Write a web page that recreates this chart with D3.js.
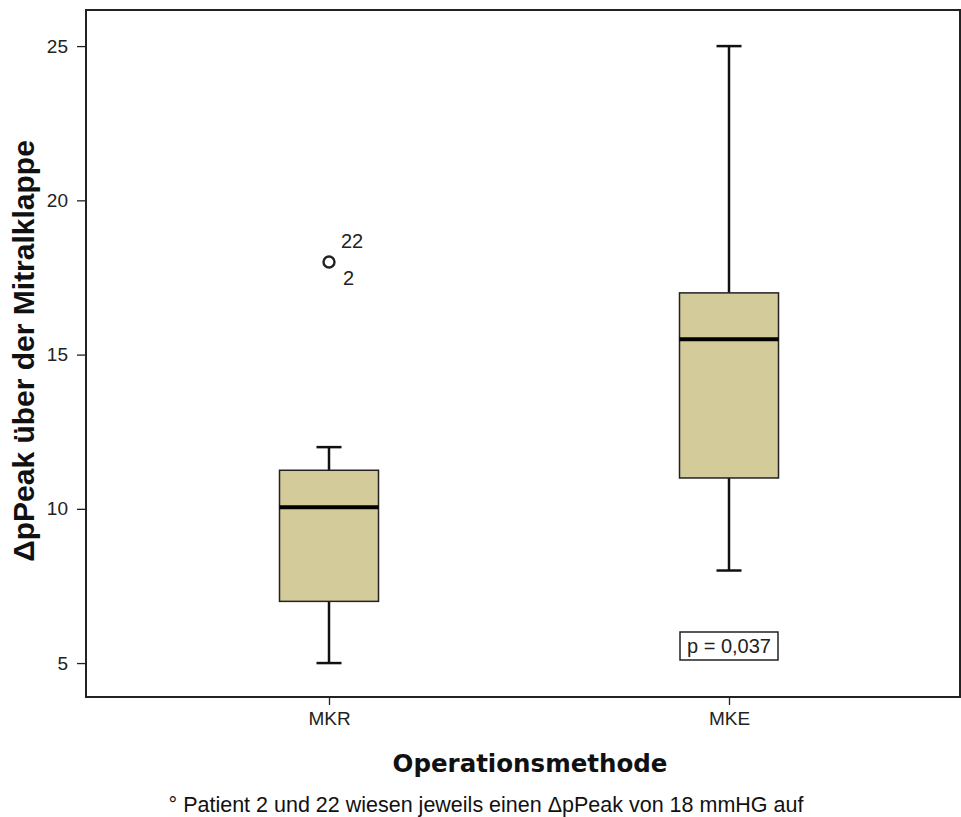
<!DOCTYPE html>
<html>
<head>
<meta charset="utf-8">
<script src="https://cdn.jsdelivr.net/npm/d3@7"></script>
<style>
  body { margin: 0; background: #fff; }
  svg { display: block; }
</style>
</head>
<body>
<svg id="chart" width="961" height="817"></svg>
<script>
// box plot data
const groups = ['MKR', 'MKE'];
const whiskerLow = [5, 8];
const q1 = [7, 11];
const median = [10.05, 15.5];
const q3 = [11.25, 17];
const whiskerHigh = [12, 25];
const outliers = [{ group: 'MKR', value: 18, labels: ['22', '2'] }];
const yTicks = [5, 10, 15, 20, 25];

const svg = d3.select('#chart');
const plot = { left: 86, top: 10, right: 960, bottom: 697 };
const sans = 'Liberation Sans, Arial, sans-serif';

const y = d3.scaleLinear().domain([3.9, 26.17]).range([plot.bottom, plot.top]);
const x = d3.scalePoint().domain(groups).range([329, 729]);

// frame
svg.append('rect')
  .attr('x', plot.left).attr('y', plot.top)
  .attr('width', plot.right - plot.left).attr('height', plot.bottom - plot.top)
  .attr('fill', 'none').attr('stroke', '#222').attr('stroke-width', 2);

// y axis
const yAxis = svg.append('g')
  .attr('transform', `translate(${plot.left},0)`)
  .call(d3.axisLeft(y).tickValues(yTicks).tickSize(9).tickPadding(9));
yAxis.select('.domain').remove();
yAxis.selectAll('line').attr('stroke', '#222').attr('stroke-width', 1.3);
yAxis.selectAll('text')
  .attr('font-family', sans)
  .attr('font-size', 19).attr('fill', '#222');

// x axis
const xAxis = svg.append('g')
  .attr('transform', `translate(0,${plot.bottom})`)
  .call(d3.axisBottom(x).tickSize(8).tickPadding(7));
xAxis.select('.domain').remove();
xAxis.selectAll('line').attr('stroke', '#222').attr('stroke-width', 1.3);
xAxis.selectAll('text')
  .attr('font-family', sans)
  .attr('font-size', 19).attr('fill', '#222');

// boxes
const boxW = 99, capW = 25;
const rows = groups.map((g, i) => ({
  g, lo: whiskerLow[i], q1: q1[i], med: median[i], q3: q3[i], hi: whiskerHigh[i]
}));

const box = svg.append('g').selectAll('g').data(rows).join('g');

box.append('line')
  .attr('x1', d => x(d.g)).attr('x2', d => x(d.g))
  .attr('y1', d => y(d.lo)).attr('y2', d => y(d.q1))
  .attr('stroke', '#111').attr('stroke-width', 2.5);
box.append('line')
  .attr('x1', d => x(d.g)).attr('x2', d => x(d.g))
  .attr('y1', d => y(d.q3)).attr('y2', d => y(d.hi))
  .attr('stroke', '#111').attr('stroke-width', 2.5);
box.selectAll('.cap')
  .data(d => [[d.g, d.lo], [d.g, d.hi]])
  .join('line')
  .attr('class', 'cap')
  .attr('x1', d => x(d[0]) - capW / 2).attr('x2', d => x(d[0]) + capW / 2)
  .attr('y1', d => y(d[1])).attr('y2', d => y(d[1]))
  .attr('stroke', '#111').attr('stroke-width', 2.5);
box.append('rect')
  .attr('x', d => x(d.g) - boxW / 2).attr('width', boxW)
  .attr('y', d => y(d.q3)).attr('height', d => y(d.q1) - y(d.q3))
  .attr('fill', '#d3cb9a').attr('stroke', '#222').attr('stroke-width', 1.5);
box.append('line')
  .attr('x1', d => x(d.g) - boxW / 2).attr('x2', d => x(d.g) + boxW / 2)
  .attr('y1', d => y(d.med)).attr('y2', d => y(d.med))
  .attr('stroke', '#000').attr('stroke-width', 4);

// outliers
outliers.forEach(o => {
  const cx = x(o.group), cy = y(o.value);
  svg.append('circle').attr('cx', cx).attr('cy', cy).attr('r', 5.5)
    .attr('fill', 'none').attr('stroke', '#222').attr('stroke-width', 2.4);
  svg.append('text').attr('x', cx + 12).attr('y', cy - 14)
    .attr('font-family', sans).attr('font-size', 20)
    .attr('fill', '#222').text(o.labels[0]);
  svg.append('text').attr('x', cx + 14).attr('y', cy + 23)
    .attr('font-family', sans).attr('font-size', 20)
    .attr('fill', '#222').text(o.labels[1]);
});

// p value box
svg.append('rect').attr('x', 680).attr('y', 632).attr('width', 98).attr('height', 28)
  .attr('fill', '#fff').attr('stroke', '#222').attr('stroke-width', 1.5);
svg.append('text').attr('x', 729).attr('y', 653).attr('text-anchor', 'middle')
  .attr('font-family', sans).attr('font-size', 20)
  .attr('fill', '#222').text('p = 0,037');

// axis titles
svg.append('text').attr('x', 530).attr('y', 772).attr('text-anchor', 'middle')
  .attr('font-family', 'DejaVu Sans, Verdana, sans-serif').attr('font-weight', 'bold')
  .attr('font-size', 24.5).attr('fill', '#111').text('Operationsmethode');
svg.append('text')
  .attr('transform', `translate(34,351) rotate(-90)`)
  .attr('text-anchor', 'middle')
  .attr('font-family', sans).attr('font-weight', 'bold')
  .attr('font-size', 30).attr('fill', '#111').text('ΔpPeak über der Mitralklappe');

// footnote
svg.append('text').attr('x', 486).attr('y', 812).attr('text-anchor', 'middle')
  .attr('font-family', sans)
  .attr('font-size', 21.5).attr('fill', '#111')
  .text('° Patient 2 und 22 wiesen jeweils einen ΔpPeak von 18 mmHG auf');
</script>
</body>
</html>
